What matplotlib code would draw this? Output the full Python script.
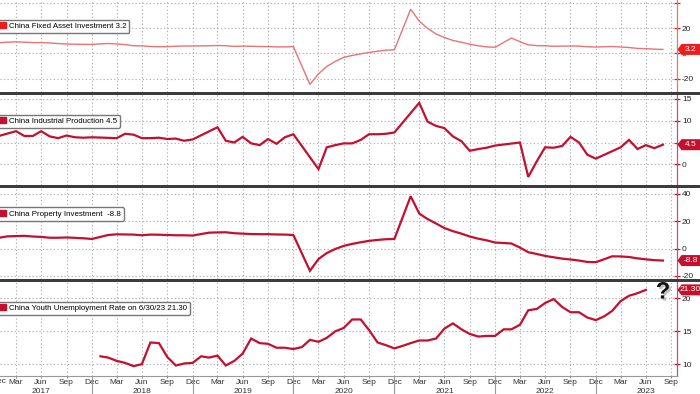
import numpy as np
import pandas as pd
import matplotlib
matplotlib.use("agg")
import matplotlib.pyplot as plt
import matplotlib.patheffects as pe
from matplotlib.patches import Patch, Polygon, Rectangle
from matplotlib.transforms import IdentityTransform

plt.rcParams["font.family"] = ["Liberation Sans", "DejaVu Sans"]

W, H = 700, 394

# ---- data (month-end readings, %) ----
# FAI and property investment are YTD y/y, no January print
fai = [8.1,
       8.9, 9.2, 8.9, 8.6, 8.6, 8.3, 7.8, 7.5, 7.3, 7.2, 7.2,
       7.9, 7.5, 7.0, 6.1, 6.0, 5.5, 5.3, 5.4, 5.7, 5.9, 5.9,
       6.1, 6.3, 6.1, 5.6, 5.8, 5.7, 5.5, 5.4, 5.2, 5.2, 5.4,
       -24.5, -16.1, -10.3, -6.3, -3.1, -1.6, -0.3, 0.8, 1.8, 2.6, 2.9,
       35.0, 25.6, 19.9, 15.4, 12.6, 10.3, 8.9, 7.3, 6.1, 5.2, 4.9,
       12.2, 9.3, 6.8, 6.2, 6.1, 5.7, 5.8, 5.9, 5.8, 5.3, 5.1,
       5.5, 5.1, 4.7, 4.0, 3.8, 3.4, 3.2]

# industrial production y/y, Jan/Feb left out
ip = [6.0,
      7.6, 6.5, 6.5, 7.6, 6.4, 6.0, 6.6, 6.2, 6.1, 6.2,
      6.0, 7.0, 6.8, 6.0, 6.0, 6.1, 5.8, 5.9, 5.4, 5.7,
      8.5, 5.4, 5.0, 6.3, 4.8, 4.4, 5.8, 4.7, 6.2, 6.9,
      -1.1, 3.9, 4.4, 4.8, 4.8, 5.6, 6.9, 6.9, 7.0, 7.3,
      14.1, 9.8, 8.8, 8.3, 6.4, 5.3, 3.1, 3.5, 3.8, 4.3,
      5.0, -2.9, 0.7, 3.9, 3.8, 4.2, 6.3, 5.0, 2.2, 1.3,
      3.9, 5.6, 3.5, 4.4, 3.7, 4.5]

prop = [6.9,
        8.9, 9.1, 9.3, 8.8, 8.5, 7.9, 7.9, 8.1, 7.8, 7.5, 7.0,
        9.9, 10.4, 10.3, 10.2, 9.7, 10.2, 10.1, 9.9, 9.7, 9.7, 9.5,
        11.6, 11.8, 11.9, 11.2, 10.9, 10.6, 10.5, 10.5, 10.3, 10.2, 9.9,
        -16.3, -7.7, -3.3, -0.3, 1.9, 3.4, 4.6, 5.6, 6.3, 6.8, 7.0,
        38.3, 25.6, 21.6, 18.3, 15.0, 12.7, 10.9, 8.8, 7.2, 6.0, 4.4,
        3.7, 0.7, -2.7, -4.0, -5.4, -6.4, -7.4, -8.0, -8.8, -9.8, -10.0,
        -5.7, -5.8, -6.2, -7.2, -7.9, -8.5, -8.8]

# youth (16-24) unemployment, Jan 2018 - Jun 2023
youth = [11.2, 11.0, 10.5, 10.2, 9.7, 10.0, 13.3, 13.2, 11.1, 9.8, 10.1, 10.2,
         11.2, 11.0, 11.3, 9.8, 10.5, 11.6, 13.9, 13.2, 13.1, 12.5, 12.5, 12.3,
         12.6, 13.7, 13.4, 14.0, 15.0, 15.5, 16.8, 16.8, 15.2, 13.3, 12.9, 12.4,
         12.8, 13.2, 13.6, 13.6, 13.9, 15.4, 16.2, 15.3, 14.6, 14.2, 14.3, 14.3,
         15.3, 15.3, 16.0, 18.2, 18.4, 19.3, 19.9, 18.7, 17.9, 17.9, 17.1, 16.7,
         17.3, 18.1, 19.6, 20.4, 20.8, 21.3]

years = [2017, 2018, 2019, 2020, 2021, 2022, 2023]


def month_ends(first, last, months=range(1, 13)):
    d = pd.date_range(first, last, freq="ME")
    return d[d.month.isin(list(months))]


fai_dates = month_ends("2016-12-01", "2023-08-31", range(2, 13))
ip_dates = month_ends("2016-12-01", "2023-08-31", range(3, 13))
prop_dates = month_ends("2016-12-01", "2023-08-31", range(2, 13))
youth_dates = month_ends("2018-01-01", "2023-06-30")

quarters = pd.date_range("2017-03-01", "2023-09-30", freq="QE")
xlim = (pd.Timestamp("2017-02-01"), pd.Timestamp("2023-10-21"))

RED = "#ee1c1c"
LIGHT = "#e87474"
CRIMSON = "#c4102e"
GRID = "#a8a8a8"
FS = 6

fig = plt.figure(figsize=(W / 100, H / 100), dpi=100)


def add_panel(top, bottom):
    return fig.add_axes([0, 1 - bottom / H, 677 / W, (bottom - top) / H])


panels = [
    # (top px, bottom px, x, y, color, line color, lw, ylim, yticks, labels, legend text, tag)
    (0, 92, fai_dates, fai, RED, LIGHT, 1.0, (-30.5, 42.3), [-20, 0, 20, 40],
     ["-20", "0", "20", ""], "China Fixed Asset Investment 3.2", "3.2"),
    (95, 185, ip_dates, ip, CRIMSON, CRIMSON, 1.6, (-4.75, 15.9), [0, 5, 10, 15],
     ["0", "5", "10", "15"], "China Industrial Production 4.5", "4.5"),
    (188, 279, prop_dates, prop, CRIMSON, CRIMSON, 1.6, (-22.3, 44.3), [-20, 0, 20, 40],
     ["-20", "0", "20", "40"], "China Property Investment  -8.8", "-8.8"),
    (282, 376, youth_dates, youth, CRIMSON, CRIMSON, 1.6, (8.2, 22.5), [10, 15, 20],
     ["10", "15", "20"], "China Youth Unemployment Rate on 6/30/23 21.30", "21.30"),
]

axes = []
for top, bottom, xd, yd, col, lcol, lw, ylim, yt, ylab, leg, tag in panels:
    ax = add_panel(top, bottom)
    axes.append(ax)
    ax.plot(xd, yd, color=lcol, lw=lw, solid_joinstyle="miter")
    ax.set_xlim(*xlim)
    ax.set_ylim(*ylim)
    ax.set_xticks(quarters)
    ax.set_yticks(yt, ylab)
    ax.grid(True, ls=(0, (1, 2.2)), color=GRID, lw=0.8)
    for s in ("left", "top", "bottom"):
        ax.spines[s].set_visible(False)
    ax.spines["right"].set_color(lcol if col == RED else "#c8506a")
    ax.spines["right"].set_linewidth(0.9)
    ax.yaxis.tick_right()
    ax.tick_params(axis="y", direction="inout", length=4, width=0.9,
                   color=col, labelcolor="#222222", labelsize=FS, pad=1.5)
    ax.tick_params(axis="x", length=0, labelbottom=False)

    h = bottom - top
    ax.legend(handles=[Patch(color=col)], labels=[leg], loc="upper left",
              bbox_to_anchor=(-0.005, 1 - 19.5 / h), borderaxespad=0,
              fontsize=5.7, handlelength=0.8, handleheight=0.8,
              handletextpad=0.4, borderpad=0.35, fancybox=True,
              framealpha=1, edgecolor="#777777")

    # value tag on the right axis
    y = ax.transData.transform((0, yd[-1]))[1]
    pts = [(677.5, y), (681.5, y + 5.5), (700, y + 5.5), (700, y - 5.5), (681.5, y - 5.5)]
    fig.add_artist(Polygon(pts, closed=True, transform=IdentityTransform(),
                           fc=col, ec="none", zorder=5))
    fig.text(690.5 / W, y / H, tag, ha="center", va="center", color="white",
             fontsize=FS, zorder=6)

# dark separators between panels
for y0 in (92, 185, 279):
    fig.add_artist(Rectangle((0, 1 - (y0 + 3.3) / H), 1, 3.3 / H,
                             transform=fig.transFigure, fc="#3c3c3c", ec="none", zorder=4))

# bottom date axis
ax = axes[-1]
ax.spines["bottom"].set_visible(True)
ax.spines["bottom"].set_color("#999999")
ax.spines["bottom"].set_linewidth(0.8)
ax.set_xticks(quarters, [d.strftime("%b") for d in quarters])
ax.tick_params(axis="x", length=1.5, width=0.7, color="#888888", labelbottom=True,
               labelsize=FS, labelcolor="#333333", pad=0.3)
tr = ax.get_xaxis_transform()
for yr in years:
    ax.text(pd.Timestamp(f"{yr}-07-01"), -0.16, str(yr), transform=tr,
            ha="center", va="center", fontsize=FS, color="#333333")
    if yr < 2023:
        sep = pd.Timestamp(f"{yr}-12-31")
        ax.plot([sep, sep], [0, -0.2], transform=tr, color="#999999", lw=0.8, clip_on=False)
fig.text(6 / W, 1 - 381.5 / H, "Dec", ha="right", va="center", fontsize=FS, color="#333333")

q = fig.text(663 / W, 1 - 292 / H, "?", ha="center", va="center", fontsize=17,
             fontweight="bold", color="#111111", zorder=7)
q.set_path_effects([pe.withSimplePatchShadow(offset=(1.5, -1.5), shadow_rgbFace="#999999", alpha=0.6)])

fig.savefig("out.png", dpi=100)
